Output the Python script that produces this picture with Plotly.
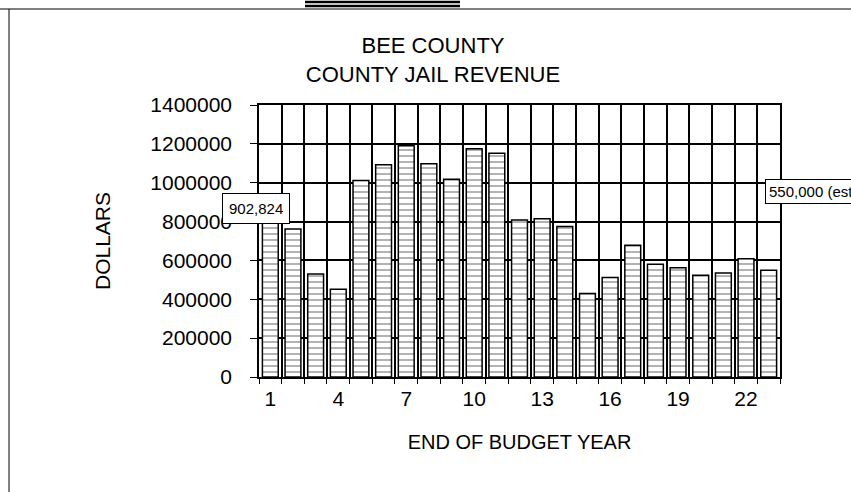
import plotly.graph_objects as go

# ---- data ----
years = list(range(1, 24))
revenue = [902824, 762000, 530000, 452000, 1012000, 1093000, 1190000, 1097000,
           1018000, 1175000, 1152000, 808000, 814000, 775000, 430000, 512000,
           678000, 580000, 562000, 524000, 535000, 608000, 550000]
xtick_vals = [1, 4, 7, 10, 13, 16, 19, 22]
ytick_vals = [0, 200000, 400000, 600000, 800000, 1000000, 1200000, 1400000]

W, H = 851, 492
ML, MR, MT, MB = 259, 71, 105, 115
PW, PH = W - ML - MR, H - MT - MB


def px(x):
    return (x - ML) / PW


def py(y):
    return (H - MB - y) / PH


FONT = "Arial, Liberation Sans, sans-serif"

fig = go.Figure()
fig.add_trace(go.Bar(
    x=years, y=revenue,
    width=0.7,
    marker=dict(color="white",
                line=dict(color="black", width=1.5),
                pattern=dict(shape="-", size=6, solidity=0.2,
                             fgcolor="black", bgcolor="white")),
    showlegend=False,
))

fig.update_layout(
    width=W, height=H,
    margin=dict(l=ML, r=MR, t=MT, b=MB, pad=0),
    paper_bgcolor="white", plot_bgcolor="white",
    font=dict(family=FONT, size=20, color="black"),
    title=dict(text="BEE COUNTY<br>COUNTY JAIL REVENUE",
               x=433 / W, xref="container", xanchor="center",
               y=1 - 53 / H, yref="container", yanchor="middle",
               font=dict(size=22)),
    xaxis=dict(range=[0.5, 23.5], tickmode="array", tickvals=xtick_vals,
               ticks="", showgrid=False, showline=True, linecolor="black",
               linewidth=1.5, mirror=True, zeroline=False,
               ticklabelstandoff=2,
               minor=dict(tickmode="linear", tick0=0.5, dtick=1, ticks="outside",
                          ticklen=5, tickcolor="black", showgrid=True,
                          gridcolor="black", gridwidth=1.5),
               title=dict(text="END OF BUDGET YEAR", standoff=26,
                          font=dict(size=20)),
               tickfont=dict(size=21)),
    yaxis=dict(range=[0, 1400000], tickmode="array", tickvals=ytick_vals,
               ticktext=[str(v) for v in ytick_vals],
               ticks="outside", ticklen=7, tickcolor="black",
               showgrid=True, gridcolor="black", gridwidth=1.5,
               showline=True, linecolor="black", linewidth=1.5, mirror=True,
               zeroline=False, ticklabelstandoff=14,
               title=dict(text="DOLLARS", standoff=34, font=dict(size=21)),
               tickfont=dict(size=21)),
    bargap=0.3,
)

fig.add_annotation(x=years[0], y=revenue[0], xref="x", yref="y",
                   text="902,824", showarrow=False, xshift=-14, yshift=-7,
                   yanchor="middle",
                   font=dict(size=15), bgcolor="white", bordercolor="black",
                   borderwidth=1, borderpad=6)
fig.add_annotation(x=years[-1], y=py(191), xref="x", yref="paper",
                   text="550,000 (est)", showarrow=False, xanchor="left",
                   yanchor="middle",
                   xshift=-4, font=dict(size=15), bgcolor="white",
                   bordercolor="black", borderwidth=1, borderpad=3)

# page frame (scan border)
frame = [
    dict(x0=px(9), x1=px(9), y0=py(9), y1=py(H)),
    dict(x0=px(0), x1=px(W), y0=py(9), y1=py(9)),
    dict(x0=px(305), x1=px(460), y0=py(2), y1=py(2)),
    dict(x0=px(305), x1=px(460), y0=py(6), y1=py(6)),
]
for i, f in enumerate(frame):
    fig.add_shape(type="line", xref="paper", yref="paper",
                  line=dict(color="black", width=1 if i < 2 else 2.5), **f)

fig.write_html("out.html")
